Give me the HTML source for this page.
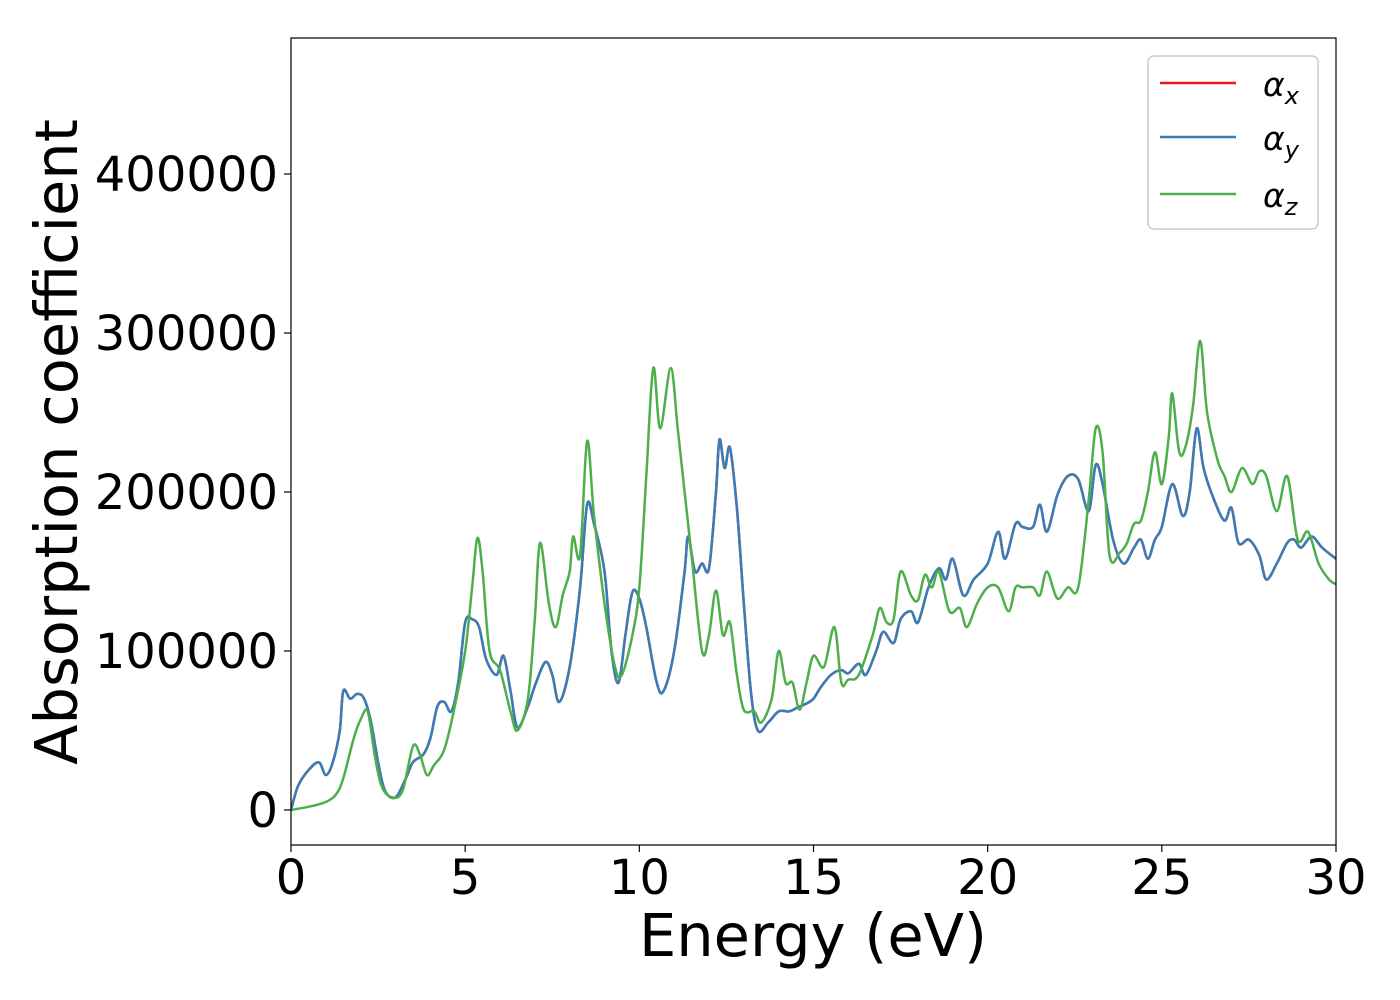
<!DOCTYPE html>
<html><head><meta charset="utf-8"><style>
html,body{margin:0;padding:0;background:#fff;}
svg{display:block;font-family:"DejaVu Sans","Liberation Sans",sans-serif;}
</style></head><body>
<svg id="chart" width="1400" height="1000" viewBox="0 0 1400 1000">
<rect x="0" y="0" width="1400" height="1000" fill="#fff"/>
<g id="series"></g>
<rect x="291" y="38" width="1045" height="807" fill="none" stroke="#000" stroke-width="1.2"/>
<g id="xticks"></g>
<g id="yticks"></g>
<text x="813" y="956" font-size="59" text-anchor="middle">Energy (eV)</text>
<text transform="translate(77,442) rotate(-90)" font-size="59" text-anchor="middle">Absorption coefficient</text>
<g>
<rect x="1148" y="56" width="170" height="173" rx="6" fill="#fff" fill-opacity="0.8" stroke="#ccc" stroke-width="1.5"/>
<g><line x1="1160" y1="83" x2="1236" y2="83" stroke="#e41a1c" stroke-width="2.5"/><text x="1263" y="96" font-size="33" font-style="italic">α<tspan font-size="24" dy="8">x</tspan></text></g>
<g><line x1="1160" y1="137" x2="1236" y2="137" stroke="#377eb8" stroke-width="2.5"/><text x="1263" y="150" font-size="33" font-style="italic">α<tspan font-size="24" dy="8">y</tspan></text></g>
<g><line x1="1160" y1="194" x2="1236" y2="194" stroke="#4daf4a" stroke-width="2.5"/><text x="1263" y="207" font-size="33" font-style="italic">α<tspan font-size="24" dy="8">z</tspan></text></g>
</g>
</svg>
<script>
const xTickValues=[0,5,10,15,20,25,30];
const yTickValues=[0,100000,200000,300000,400000];
const energyXY=[0,0.2,0.5,0.8,1.0,1.2,1.4,1.5,1.7,1.9,2.1,2.3,2.5,2.7,3.0,3.3,3.5,3.8,4.0,4.2,4.4,4.6,4.8,5.0,5.2,5.4,5.6,5.9,6.1,6.3,6.5,6.8,7.0,7.3,7.5,7.7,8.0,8.3,8.5,8.7,9.0,9.2,9.4,9.6,9.8,10.0,10.2,10.5,10.7,11.0,11.3,11.4,11.6,11.8,12.0,12.2,12.3,12.45,12.6,12.8,13.0,13.2,13.4,13.7,14.0,14.3,14.5,14.8,15.0,15.2,15.5,15.8,16.0,16.3,16.5,16.8,17.0,17.3,17.5,17.8,18.0,18.3,18.6,18.8,19.0,19.3,19.6,20.0,20.3,20.5,20.8,21.0,21.3,21.5,21.7,22.0,22.3,22.6,22.9,23.1,23.3,23.6,23.9,24.2,24.4,24.6,24.8,25.0,25.3,25.6,25.8,26.0,26.2,26.5,26.8,27.0,27.2,27.5,27.8,28.0,28.3,28.6,28.8,29.0,29.3,29.6,30];
const alphaY=[0,15,25,30,22,30,50,75,70,73,70,55,30,12,8,20,30,35,45,65,68,62,80,118,120,115,95,85,97,75,52,65,78,93,85,68,90,140,192,180,150,100,80,110,137,133,115,80,75,100,150,172,150,155,152,200,233,215,228,190,130,75,50,55,62,62,64,67,70,77,85,88,86,92,85,100,112,105,120,125,118,140,152,145,158,135,145,155,175,158,180,178,178,192,175,198,210,208,188,217,205,170,155,165,170,158,170,178,205,185,200,240,215,195,182,190,168,170,160,145,155,168,170,165,172,165,158];
const alphaX=alphaY.slice();
const energyZ=[0,0.5,1.0,1.3,1.5,1.8,2.0,2.2,2.4,2.6,2.9,3.2,3.5,3.7,3.9,4.1,4.4,4.7,5.0,5.2,5.35,5.5,5.7,6.0,6.3,6.5,6.8,7.0,7.15,7.4,7.6,7.8,8.0,8.1,8.3,8.5,8.7,9.0,9.3,9.5,9.8,10.0,10.2,10.4,10.6,10.9,11.1,11.3,11.5,11.8,12.0,12.2,12.4,12.6,12.8,13.0,13.3,13.5,13.8,14.0,14.2,14.4,14.6,14.8,15.0,15.3,15.6,15.8,16.0,16.3,16.7,16.9,17.1,17.3,17.5,17.8,18.0,18.2,18.4,18.6,18.9,19.2,19.4,19.7,20.0,20.3,20.6,20.8,21.0,21.3,21.5,21.7,22.0,22.3,22.6,22.9,23.1,23.3,23.5,23.8,24.0,24.2,24.4,24.6,24.8,25.0,25.2,25.3,25.5,25.7,25.9,26.1,26.3,26.6,26.8,27.0,27.3,27.6,27.8,28.0,28.3,28.6,28.9,29.2,29.5,29.8,30];
const alphaZ=[0,2,5,10,20,45,57,62,35,15,8,12,40,35,22,28,38,65,100,140,171,150,100,88,62,50,70,120,168,130,115,135,150,172,160,232,185,130,90,85,110,140,210,278,240,278,240,200,160,100,110,138,110,118,85,63,62,55,70,100,80,80,63,80,97,90,115,80,82,85,110,127,118,120,150,135,132,148,140,150,125,127,115,130,140,140,125,140,140,140,135,150,133,140,140,195,240,225,160,162,168,180,182,200,225,205,235,262,225,230,255,295,250,220,210,200,215,205,213,210,188,210,170,175,155,145,142];

const NS='http://www.w3.org/2000/svg';
function xs(e){return 291+e*(1045/30);}
function ys(v){return 810-v*159/100000;}
function smoothPath(ex,vals){
  const p=ex.map((e,i)=>[xs(e),ys(vals[i]*1000)]);
  let d='M'+p[0][0].toFixed(1)+','+p[0][1].toFixed(1);
  for(let i=0;i<p.length-1;i++){
    const p0=p[Math.max(0,i-1)],p1=p[i],p2=p[i+1],p3=p[Math.min(p.length-1,i+2)];
    const c1=[p1[0]+(p2[0]-p0[0])/6,p1[1]+(p2[1]-p0[1])/6];
    const c2=[p2[0]-(p3[0]-p1[0])/6,p2[1]-(p3[1]-p1[1])/6];
    d+=' C'+c1[0].toFixed(1)+','+c1[1].toFixed(1)+' '+c2[0].toFixed(1)+','+c2[1].toFixed(1)+' '+p2[0].toFixed(1)+','+p2[1].toFixed(1);
  }
  return d;
}
const sg=document.getElementById('series');
function addLine(ex,vals,color,name){
  const path=document.createElementNS(NS,'path');
  path.setAttribute('d',smoothPath(ex,vals));
  path.setAttribute('fill','none');
  path.setAttribute('stroke',color);
  path.setAttribute('stroke-width','2.5');
  path.setAttribute('stroke-linejoin','round');
  
  
  sg.appendChild(path);
}
const clip=document.createElementNS(NS,'clipPath');clip.setAttribute('id','pc');
const cr=document.createElementNS(NS,'rect');cr.setAttribute('x','291');cr.setAttribute('y','38');cr.setAttribute('width','1045');cr.setAttribute('height','807');
clip.appendChild(cr);document.getElementById('chart').appendChild(clip);
sg.setAttribute('clip-path','url(#pc)');
addLine(energyXY,alphaX,'#e41a1c','alpha-x-line');
addLine(energyXY,alphaY,'#377eb8','alpha-y-line');
addLine(energyZ,alphaZ,'#4daf4a','alpha-z-line');

const xg=document.getElementById('xticks');
xTickValues.forEach(v=>{
  const l=document.createElementNS(NS,'line');
  l.setAttribute('x1',xs(v));l.setAttribute('x2',xs(v));l.setAttribute('y1',845);l.setAttribute('y2',852);
  l.setAttribute('stroke','#000');l.setAttribute('stroke-width','1.2');
  
  
  xg.appendChild(l);
  const t=document.createElementNS(NS,'text');
  t.setAttribute('x',xs(v));t.setAttribute('y',894);t.setAttribute('font-size','48');t.setAttribute('text-anchor','middle');
  t.textContent=v;
  
  
  xg.appendChild(t);
});
const yg=document.getElementById('yticks');
yTickValues.forEach(v=>{
  const l=document.createElementNS(NS,'line');
  l.setAttribute('x1',284);l.setAttribute('x2',291);l.setAttribute('y1',ys(v));l.setAttribute('y2',ys(v));
  l.setAttribute('stroke','#000');l.setAttribute('stroke-width','1.2');
  
  
  yg.appendChild(l);
  const t=document.createElementNS(NS,'text');
  t.setAttribute('x',278);t.setAttribute('y',ys(v)+17);t.setAttribute('font-size','48');t.setAttribute('text-anchor','end');
  t.textContent=v;
  
  
  yg.appendChild(t);
});
</script>
</body></html>
